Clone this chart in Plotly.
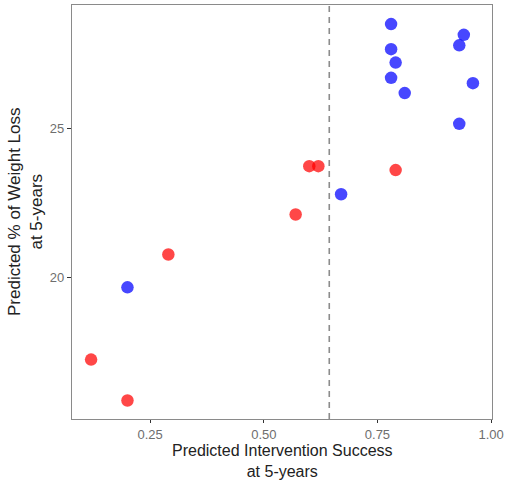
import plotly.graph_objects as go

# Data
blue_x = [0.78, 0.94, 0.93, 0.78, 0.79, 0.78, 0.96, 0.81, 0.93, 0.67, 0.20]
blue_y = [28.50, 28.14, 27.79, 27.66, 27.21, 26.70, 26.52, 26.19, 25.16, 22.80, 19.68]
red_x = [0.60, 0.62, 0.79, 0.57, 0.29, 0.12, 0.20]
red_y = [23.74, 23.74, 23.61, 22.12, 20.78, 17.26, 15.89]
threshold_x = 0.644
x_ticks = [0.25, 0.50, 0.75, 1.00]
x_tick_labels = ["0.25", "0.50", "0.75", "1.00"]
y_ticks = [20, 25]
y_tick_labels = ["20", "25"]
x_title = "Predicted Intervention Success<br>at 5-years"
y_title = "Predicted % of Weight Loss<br>at 5-years"

FONT = "Liberation Sans, Arial, sans-serif"

fig = go.Figure()
fig.add_trace(go.Scatter(x=blue_x, y=blue_y, mode="markers",
                         marker=dict(color="#0000ff", size=12.5, opacity=0.72,
                                     line=dict(width=0)),
                         showlegend=False))
fig.add_trace(go.Scatter(x=red_x, y=red_y, mode="markers",
                         marker=dict(color="#ff0000", size=12.5, opacity=0.72,
                                     line=dict(width=0)),
                         showlegend=False))

fig.add_shape(type="line", x0=threshold_x, x1=threshold_x, xref="x",
              y0=0, y1=1, yref="y domain",
              line=dict(color="#8c8c8c", width=1.6, dash="6px,5px"))

# axis titles as annotations
fig.add_annotation(text=x_title, x=0.5, xref="paper", y=0, yref="paper",
                   xanchor="center", yanchor="top", borderpad=0,
                   yshift=-22, showarrow=False,
                   font=dict(size=16, color="#222222", family=FONT))
fig.add_annotation(text=y_title, x=0, xref="paper", y=0.5, yref="paper",
                   xanchor="center", yanchor="middle", textangle=-90,
                   borderpad=0, xshift=-47, showarrow=False,
                   font=dict(size=17, color="#222222", family=FONT))

fig.update_layout(
    width=507, height=480,
    margin=dict(l=72, r=15, t=5, b=61),
    paper_bgcolor="white", plot_bgcolor="white",
    font=dict(family=FONT, color="#222222"),
    showlegend=False,
)
fig.update_xaxes(
    range=[0.078, 1.002], tickvals=x_ticks, ticktext=x_tick_labels,
    showgrid=False, zeroline=False, automargin=False,
    showline=True, linecolor="#8a8a8a", linewidth=1.2, mirror=True,
    ticks="outside", ticklen=3, tickcolor="#333333", tickwidth=1,
    tickfont=dict(size=13, color="#6e6e6e", family=FONT),
)
fig.update_yaxes(
    range=[15.27, 29.14], tickvals=y_ticks, ticktext=y_tick_labels,
    showgrid=False, zeroline=False, automargin=False,
    showline=True, linecolor="#8a8a8a", linewidth=1.2, mirror=True,
    ticks="outside", ticklen=4, tickcolor="#333333", tickwidth=1,
    tickfont=dict(size=13, color="#6e6e6e", family=FONT),
)

fig.write_html("out.html")
